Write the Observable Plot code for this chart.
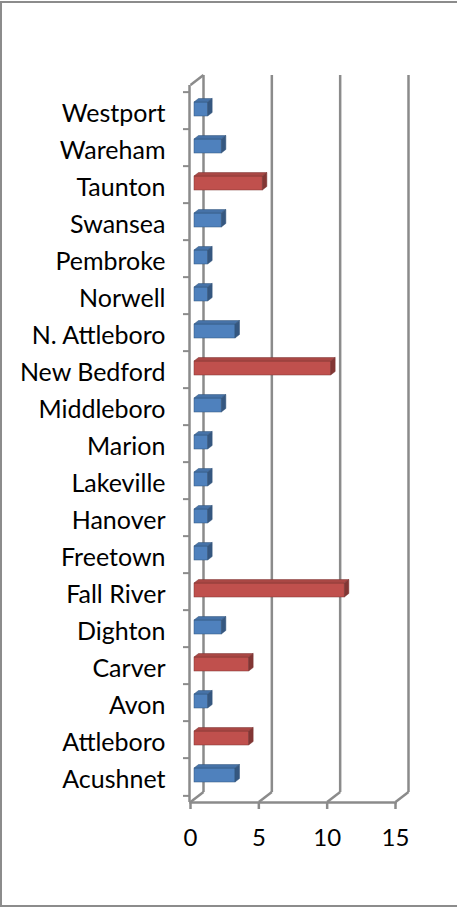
<!DOCTYPE html>
<html>
<head>
<meta charset="utf-8">
<script src="https://cdn.jsdelivr.net/npm/d3@7"></script>
<script src="https://cdn.jsdelivr.net/npm/@observablehq/plot@0.6"></script>
<style>
  html, body { margin: 0; padding: 0; background: #fff; }
  body { position: relative; width: 457px; height: 908px; overflow: hidden; }
  #chart { position: absolute; left: 0; top: 0; }
  #frame { position: absolute; left: 0; top: 1px; width: 480px; height: 906px;
           border: 2px solid #8c8c8c; box-sizing: border-box; pointer-events: none; }
</style>
</head>
<body>
<div id="chart"></div>
<div id="frame"></div>
<script>
// ---- data (bottom-to-top order as in the source workbook) ----
const towns = ["Acushnet", "Attleboro", "Avon", "Carver", "Dighton", "Fall River", "Freetown",
  "Hanover", "Lakeville", "Marion", "Middleboro", "New Bedford", "N. Attleboro", "Norwell",
  "Pembroke", "Swansea", "Taunton", "Wareham", "Westport"];
const counts = [3, 4, 1, 4, 2, 11, 1, 1, 1, 1, 2, 10, 3, 1, 1, 2, 5, 2, 1];
const groups = ["small", "large", "small", "large", "small", "large", "small", "small", "small",
  "small", "small", "large", "small", "small", "small", "small", "large", "small", "small"];
const xTicks = [0, 5, 10, 15];

const groupDomain = ["small", "large"];
const groupColors = ["#4F81BD", "#C0504D"];
const gridGray = "#8b8b8b";

const data = towns.map((town, i) => ({town, count: counts[i], group: groups[i]}));
const yOrder = towns.slice().reverse();

const W = 457, H = 908, mTop = 85, mBottom = 106, mLeft = 190, mRight = 62;
const bw = (H - mTop - mBottom) / towns.length;
const depthX = 13, depthY = 10;       // wall depth (px)
const barDX = 4.5, barDY = 3.5;       // bar depth (px)

// draw the 3D top/side faces of each bar from the rendered rects
function extrude(index, scales, values, dimensions, context, next) {
  const g = next(index, scales, values, dimensions, context);
  const rects = Array.from(g.querySelectorAll("rect"));
  for (const r of rects) {
    const x = +r.getAttribute("x"), y = +r.getAttribute("y");
    const w = +r.getAttribute("width"), h = +r.getAttribute("height");
    const c = d3.color(r.getAttribute("fill"));
    const edge = c.darker(1.2).formatHex();
    const top = document.createElementNS("http://www.w3.org/2000/svg", "polygon");
    top.setAttribute("points", [[x, y], [x + barDX, y - barDY], [x + w + barDX, y - barDY], [x + w, y]].join(" "));
    top.setAttribute("fill", c.darker(0.35).formatHex());
    top.setAttribute("stroke", edge); top.setAttribute("stroke-width", 0.5);
    const side = document.createElementNS("http://www.w3.org/2000/svg", "polygon");
    side.setAttribute("points", [[x + w, y], [x + w + barDX, y - barDY], [x + w + barDX, y + h - barDY], [x + w, y + h]].join(" "));
    side.setAttribute("fill", c.darker(1.1).formatHex());
    side.setAttribute("stroke", edge); side.setAttribute("stroke-width", 0.5);
    r.setAttribute("stroke", edge); r.setAttribute("stroke-width", 0.5);
    r.parentNode.appendChild(top);
    r.parentNode.appendChild(side);
  }
  return g;
}

// connect back-wall gridlines to the front floor edge (and the left wall top)
function wallEdges(index, scales, values, dimensions, context, next) {
  const g = next(index, scales, values, dimensions, context);
  const lines = Array.from(g.querySelectorAll("line"));
  lines.forEach((l, i) => {
    const x = +l.getAttribute("x1");
    const ya = +l.getAttribute("y1"), yb = +l.getAttribute("y2");
    const yLow = Math.max(ya, yb), yHigh = Math.min(ya, yb);
    const segs = [[x - depthX, yLow + depthY, x, yLow]];
    if (i === 0) segs.push([x - depthX, yHigh + depthY, x, yHigh]);
    for (const [x1, y1, x2, y2] of segs) {
      const d = document.createElementNS("http://www.w3.org/2000/svg", "line");
      d.setAttribute("x1", x1); d.setAttribute("y1", y1);
      d.setAttribute("x2", x2); d.setAttribute("y2", y2);
      l.parentNode.appendChild(d);
    }
  });
  return g;
}

const chart = Plot.plot({
  width: W, height: H,
  marginTop: mTop, marginBottom: mBottom, marginLeft: mLeft, marginRight: mRight,
  style: {fontFamily: "Lato, 'Open Sans', sans-serif", fontSize: "24px", background: "transparent", color: "black"},
  x: {domain: [0, 15], label: null},
  y: {domain: yOrder, label: null, padding: 0},
  color: {domain: groupDomain, range: groupColors},
  marks: [
    // back wall gridlines + floor diagonals
    Plot.ruleX(xTicks, {x: d => d, dx: depthX, dy: -depthY, stroke: gridGray, strokeWidth: 2.5, render: wallEdges}),
    // front left axis line
    Plot.ruleX([0], {stroke: gridGray, strokeWidth: 2.5, dx: -1}),
    // front floor edge
    Plot.frame({anchor: "bottom", stroke: gridGray, strokeWidth: 2.5}),
    // category boundary ticks
    Plot.axisY({tickSize: 6, text: null, dy: -bw / 2, dx: -1, stroke: gridGray, strokeWidth: 2}),
    Plot.axisY({ticks: ["Acushnet"], tickSize: 6, text: null, dy: bw / 2, dx: -1, stroke: gridGray, strokeWidth: 2}),
    // category labels
    Plot.axisY({tickSize: 0, tickPadding: 25, dy: 3, fill: "black", fontSize: 25}),
    // value axis
    Plot.axisX({ticks: xTicks, tickSize: 7, tickPadding: 19, stroke: gridGray, strokeWidth: 2.5, fill: "black"}),
    // bars
    Plot.barX(data, {x: "count", y: "town", fill: "group", insetTop: 11.5, insetBottom: 11.5,
      dx: 4, dy: -1.5, render: extrude})
  ]
});
document.getElementById("chart").appendChild(chart);
</script>
</body>
</html>
